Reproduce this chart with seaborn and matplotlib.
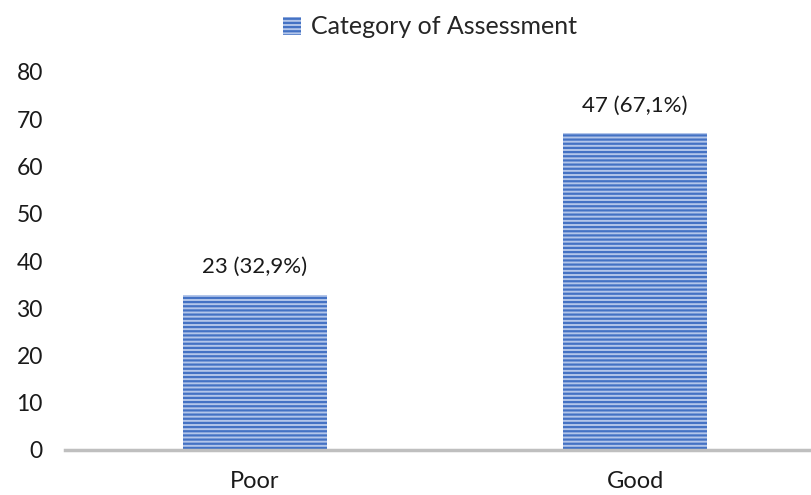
import matplotlib
matplotlib.use("Agg")
import matplotlib.pyplot as plt
import matplotlib.patches as mpatches
import seaborn as sns

# data
categories = ["Poor", "Good"]
counts = [23, 47]
percents = [32.9, 67.1]
yticks = [0, 10, 20, 30, 40, 50, 60, 70, 80]
legend_label = "Category of Assessment"

sns.set_style("white")
plt.rcParams['font.family'] = ['Lato', 'DejaVu Sans']
plt.rcParams['hatch.linewidth'] = 1.6

W, H = 811, 495
fig = plt.figure(figsize=(W / 100, H / 100), dpi=100)
left, right, bottom, top = 65, 811, 45, 423
ax = fig.add_axes([left / W, bottom / H, (right - left) / W, (top - bottom) / H])

sns.barplot(x=categories, y=percents, ax=ax, width=0.377,
            color="#b3c6ea", saturation=1)

# horizontal stripes like the Excel pattern fill
for p in ax.patches:
    p.set_hatch("----")
    p.set_edgecolor("#4472c4")
    p.set_linewidth(0)

for i, (c, pct) in enumerate(zip(counts, percents)):
    lbl = f"{c} ({pct:.1f}%)".replace(".", ",")
    ax.text(i, pct + 3.7, lbl, ha="center", va="bottom", fontsize=16, color="#1a1a1a")

ax.set_ylim(0, 80)
ax.set_xlim(-0.5, 1.5 - 14 / 380)
ax.set_yticks(yticks)
ax.tick_params(axis="y", length=0, pad=16, labelsize=16.5, labelcolor="#1a1a1a")
ax.tick_params(axis="x", length=0, pad=15, labelsize=17, labelcolor="#1a1a1a")
for s in ["top", "right", "left"]:
    ax.spines[s].set_visible(False)
ax.spines["bottom"].set_color("#bfbfbf")
ax.spines["bottom"].set_linewidth(2.5)
ax.set_xlabel("")
ax.set_ylabel("")

patch = mpatches.Patch(facecolor="#b3c6ea", edgecolor="#4472c4", hatch="----", linewidth=0,
                       label=legend_label)
fig.legend(handles=[patch], loc="center", bbox_to_anchor=(430 / W, 1 - 27 / H),
           frameon=False, fontsize=18, handlelength=0.7, handleheight=0.7,
           handletextpad=0.4)

fig.savefig("out.png", dpi=100)
